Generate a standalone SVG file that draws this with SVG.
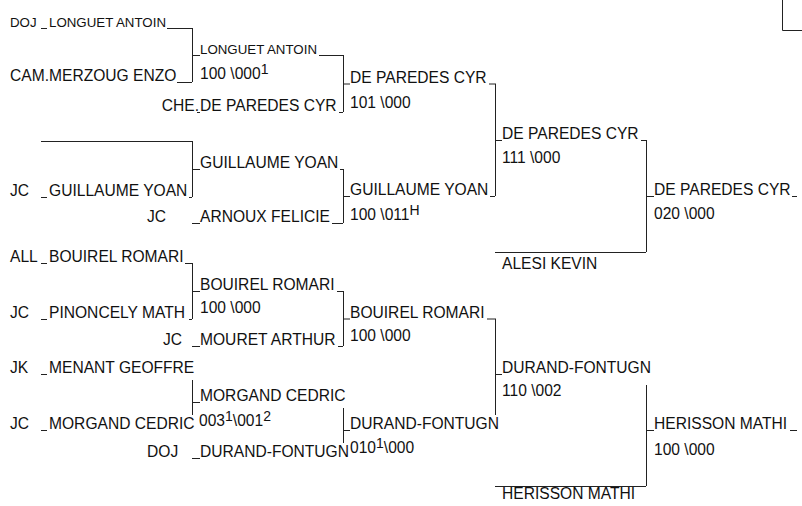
<svg xmlns="http://www.w3.org/2000/svg" width="802" height="506" viewBox="0 0 802 506">
<style>
text{font-family:"Liberation Sans",Arial,sans-serif;font-size:15.6px;fill:#111}
.sm{font-size:13.3px}
.sup{font-size:14px}
line,path{stroke:#222;stroke-width:1;fill:none}
</style>
<rect width="802" height="506" fill="#fff"/>
<g id="corner"><path d="M782.5,0 V30.5 H802"/></g>

<g id="connectors">
<path d="M192.5,28 V82 M192.5,141 V197 M192.5,263 V319 M192.5,380 V415"/>
<path d="M343.5,55 V112 M343.5,169 V223 M343.5,291 V346 M343.5,408 V443"/>
<path d="M495.5,83.5 V196 M495.5,318.5 V415"/>
<path d="M646.5,140 V252 M646.5,385 V486"/>
<path d="M192.5,402.5 H200 M343.5,430.5 H350 M495.5,374.5 H502"/>
</g>

<!-- Round 1 -->
<g id="r1-longuet"><text x="10" y="26.5" class="sm">DOJ</text><text x="49" y="26.5" class="sm">LONGUET ANTOIN</text><path d="M41,28.5 H47 M167,28.5 H192"/></g>
<g id="r1-merzoug"><text x="10" y="81">CAM.</text><text x="49" y="81">MERZOUG ENZO</text><path d="M177,82.5 H192"/></g>
<g id="r1-bye"><path d="M41,141.5 H192"/></g>
<g id="r1-guillaume"><text x="10" y="196">JC</text><text x="49" y="196">GUILLAUME YOAN</text><path d="M41,197.5 H47 M189,197.5 H192"/></g>
<g id="r1-bouirel"><text x="10" y="262">ALL</text><text x="49" y="262">BOUIREL ROMARI</text><path d="M41,263.5 H47 M185,263.5 H192"/></g>
<g id="r1-pinoncely"><text x="10" y="318">JC</text><text x="49" y="318">PINONCELY MATH</text><path d="M41,319.5 H47 M189,319.5 H192"/></g>
<g id="r1-menant"><text x="10" y="373">JK</text><text x="49" y="373">MENANT GEOFFRE</text><path d="M41,374.5 H47"/></g>
<g id="r1-morgand"><text x="10" y="429">JC</text><text x="49" y="429">MORGAND CEDRIC</text><path d="M41,430.5 H47"/></g>

<!-- Round 2 -->
<g id="r2-longuet"><text x="200" y="54" class="sm">LONGUET ANTOIN</text><text x="200" y="79">100 \000<tspan class="sup" dy="-5">1</tspan></text><path d="M192,55.5 H200 M319,55.5 H343"/></g>
<g id="r2-deparedes"><text x="199" y="111" text-anchor="end">CHE.</text><text x="200" y="111">DE PAREDES CYR</text><path d="M197,112.5 H200 M339,112.5 H343"/></g>
<g id="r2-guillaume"><text x="200" y="168">GUILLAUME YOAN</text><path d="M192,169.5 H200 M340,169.5 H343"/></g>
<g id="r2-arnoux"><text x="147" y="222">JC</text><text x="200" y="222">ARNOUX FELICIE</text><path d="M192,223.5 H200 M332,223.5 H343"/></g>
<g id="r2-bouirel"><text x="200" y="290">BOUIREL ROMARI</text><text x="200" y="313">100 \000</text><path d="M192,291.5 H200 M337,291.5 H343"/></g>
<g id="r2-mouret"><text x="163" y="345">JC</text><text x="200" y="345">MOURET ARTHUR</text><path d="M192,346.5 H200 M338,346.5 H343"/></g>
<g id="r2-morgand"><text x="200" y="401">MORGAND CEDRIC</text><text x="199" y="426">003<tspan class="sup" dy="-5">1</tspan><tspan dy="5">\001</tspan><tspan class="sup" dy="-5">2</tspan></text></g>
<g id="r2-durand"><text x="147" y="457">DOJ</text><text x="200" y="457">DURAND-FONTUGN</text><path d="M192,458.5 H200"/></g>

<!-- Round 3 -->
<g id="r3-deparedes"><text x="350" y="82.5">DE PAREDES CYR</text><text x="350" y="108">101 \000</text><path d="M343,84 H350 M489,84 H495"/></g>
<g id="r3-guillaume"><text x="350" y="195">GUILLAUME YOAN</text><text x="350" y="220">100 \011<tspan class="sup" dy="-5">H</tspan></text><path d="M343,196.5 H350 M490,196.5 H495"/></g>
<g id="r3-bouirel"><text x="350" y="317.5">BOUIREL ROMARI</text><text x="350" y="341">100 \000</text><path d="M343,319 H350 M487,319 H495"/></g>
<g id="r3-durand"><text x="350" y="429">DURAND-FONTUGN</text><text x="350" y="453">010<tspan class="sup" dy="-5">1</tspan><tspan dy="5">\000</tspan></text></g>

<!-- Round 4 -->
<g id="r4-deparedes"><text x="502" y="139">DE PAREDES CYR</text><text x="502" y="163">111 \000</text><path d="M495,140.5 H502 M641,140.5 H646"/></g>
<g id="r4-alesi"><path d="M495,252.5 H646"/><text x="502" y="269">ALESI KEVIN</text></g>
<g id="r4-durand"><text x="502" y="373">DURAND-FONTUGN</text><text x="502" y="396">110 \002</text></g>
<g id="r4-herisson"><path d="M495,486.5 H646"/><text x="502" y="499">HERISSON MATHI</text></g>

<!-- Round 5 -->
<g id="r5-deparedes"><text x="654" y="195">DE PAREDES CYR</text><text x="654" y="219">020 \000</text><path d="M646,196.5 H654 M792,196.5 H797"/></g>
<g id="r5-herisson"><text x="654" y="429">HERISSON MATHI</text><text x="654" y="455">100 \000</text><path d="M646,430.5 H654 M790,430.5 H797"/></g>
</svg>
